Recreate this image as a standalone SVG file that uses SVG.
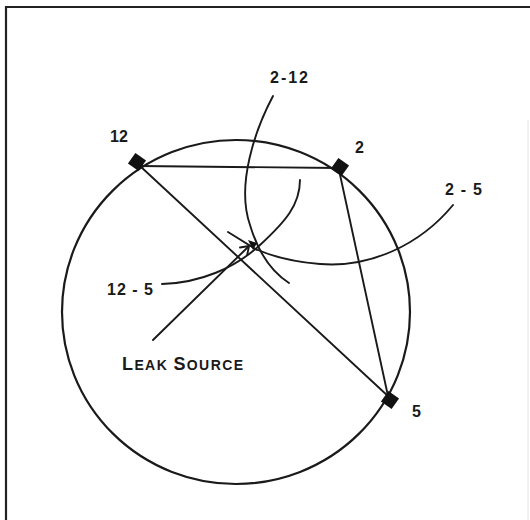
<svg xmlns="http://www.w3.org/2000/svg" width="530" height="520" viewBox="0 0 530 520">
<style>
.ln{fill:none;stroke:#1a1a1a;stroke-width:1.9;stroke-linecap:round;stroke-linejoin:round}
.cir{fill:none;stroke:#1a1a1a;stroke-width:2.2}
.lbl{font-family:"Liberation Sans",Arial,sans-serif;font-weight:bold;font-size:16px;fill:#1a1a1a}
.mk{fill:#111}
</style>
<rect width="530" height="520" fill="#fff"/>
<g id="frame">
<path d="M6,520 V7 H530" fill="none" stroke="#222" stroke-width="2.2"/>
<line x1="528" y1="120" x2="528" y2="520" stroke="#e4e4e4" stroke-width="1"/>
</g>
<g id="connectors">
<ellipse cx="236" cy="312" rx="174" ry="172" class="cir"/>
<line x1="139" y1="166" x2="338" y2="168" class="ln"/>
<line x1="140" y1="166" x2="389" y2="397" class="ln"/>
<line x1="339" y1="170" x2="388" y2="396" class="ln"/>
<path d="M273,96 C255,130 236,185 250,225 C258,252 272,272 289,283" class="ln"/>
<path d="M453,205 C420,245 370,268 320,264 C295,262 272,256 258,250" class="ln"/>
<path d="M162,284 C200,283 235,268 260,245 C285,222 300,205 300,180" class="ln"/>
<line x1="228" y1="232" x2="257" y2="250" class="ln"/>
<polygon points="248,240 257,243 253,250" class="mk"/>
</g>
<g id="node-12">
<rect x="-6.5" y="-6.5" width="13" height="13" class="mk" transform="translate(137,162) rotate(35)"/>
<text x="110" y="142" class="lbl">12</text>
</g>
<g id="node-2">
<rect x="-6.5" y="-6.5" width="13" height="13" class="mk" transform="translate(340,167) rotate(35)"/>
<text x="355" y="153" class="lbl">2</text>
</g>
<g id="node-5">
<rect x="-6.5" y="-6.5" width="13" height="13" class="mk" transform="translate(390,400) rotate(35)"/>
<text x="412" y="417" class="lbl">5</text>
</g>
<g id="labels">
<text x="270" y="83" class="lbl" textLength="38" lengthAdjust="spacing">2-12</text>
<text x="445" y="195" class="lbl" textLength="37" lengthAdjust="spacing">2 - 5</text>
<text x="107" y="295" class="lbl" textLength="46" lengthAdjust="spacing">12 - 5</text>
</g>
<g id="leak-source">
<line x1="153" y1="340" x2="248" y2="247" class="ln"/>
<path d="M240,247.5 L249,246 L247.2,255" class="ln"/>
<text x="122" y="370" class="lbl" textLength="121" lengthAdjust="spacing"><tspan font-size="18">L</tspan><tspan font-size="14">EAK </tspan><tspan font-size="18">S</tspan><tspan font-size="14">OURCE</tspan></text>
</g>
</svg>
